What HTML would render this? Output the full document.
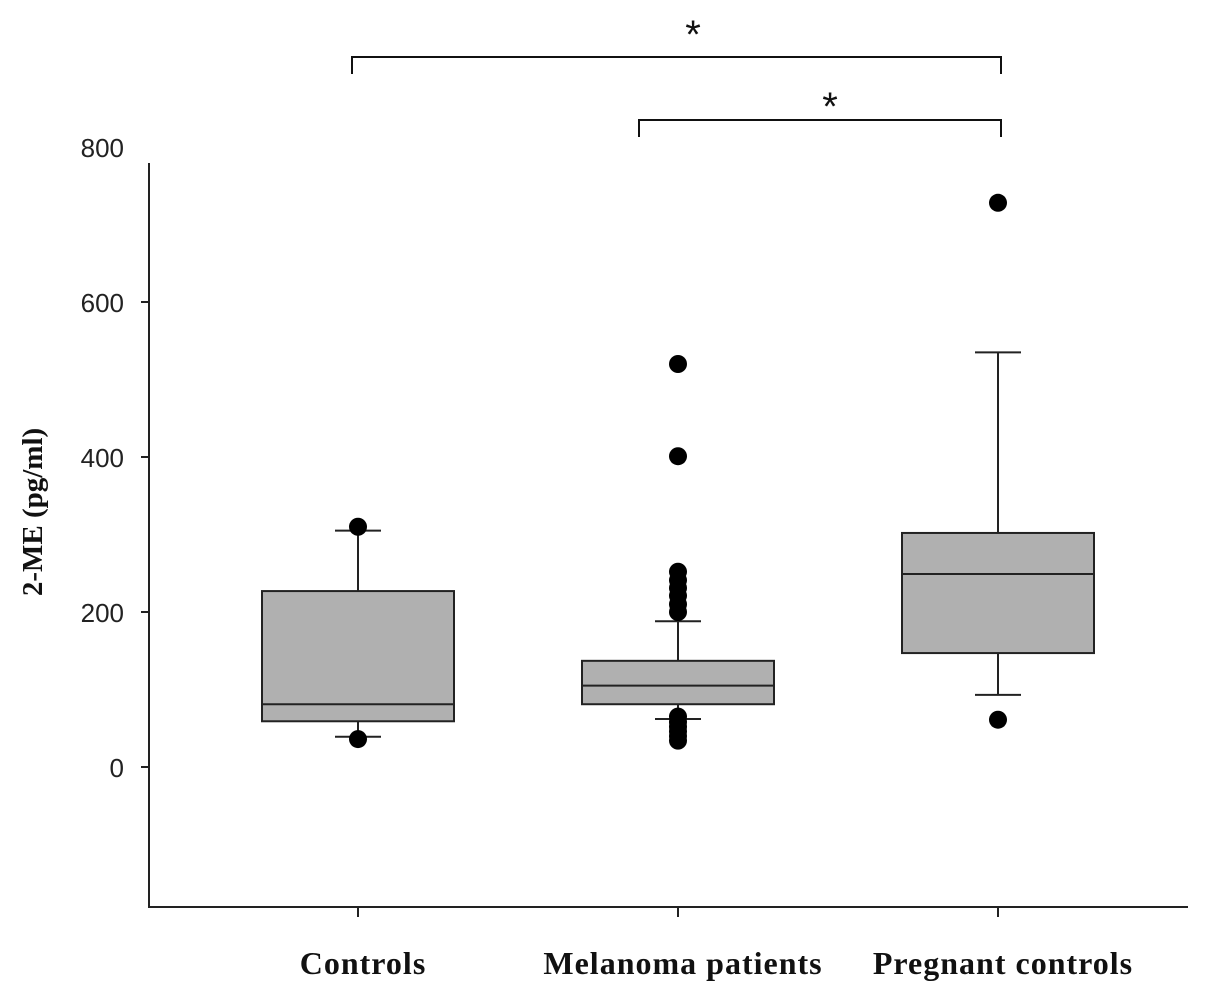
<!DOCTYPE html>
<html><head><meta charset="utf-8"><style>
html,body{margin:0;padding:0;background:#fff;}
svg{display:block;}
</style></head><body>
<svg id="chart" width="1205" height="997" xmlns="http://www.w3.org/2000/svg">
<g id="axes"></g>
<g id="marks"></g>
</svg>
<script>
const categories = ["Controls", "Melanoma patients", "Pregnant controls"];
const q1 = [59, 81, 147];
const median = [81, 105, 249];
const q3 = [227, 137, 302];
const whiskerLow = [39, 62, 93];
const whiskerHigh = [305, 188, 535];
const outliers = [[310, 36], [520, 401, 252, 241, 231, 221, 210, 200, 65, 58, 52, 46, 40, 34], [728, 61]];
const yTicks = [0, 200, 400, 600, 800];

const NS = "http://www.w3.org/2000/svg";
const y = v => 767 - v * 0.775;
const x = i => 358 + i * 320;
function mk(tag, attrs, parent, txt) {
  const e = document.createElementNS(NS, tag);
  for (const k in attrs) e.setAttribute(k, attrs[k]);
  if (txt !== undefined) e.textContent = txt;
  parent.appendChild(e);
  return e;
}
const axes = document.getElementById('axes');
const marks = document.getElementById('marks');
let e;
e = mk('line', {x1:149, y1:163, x2:149, y2:908, stroke:'#222', 'stroke-width':2}, axes);
 
e = mk('line', {x1:148, y1:907, x2:1188, y2:907, stroke:'#222', 'stroke-width':2}, axes);
 
yTicks.forEach(t => {
  if (t < 779) {
    const tk = mk('line', {x1:141, y1:y(t), x2:149, y2:y(t), stroke:'#222', 'stroke-width':2}, axes);
     
  }
  const lb = mk('text', {x:124, y:y(t)+10, 'text-anchor':'end', 'font-family':'Liberation Sans, sans-serif', 'font-size':26, fill:'#222'}, axes, String(t));
   
});
e = mk('text', {x:0, y:0, transform:'translate(42,512) rotate(-90)', 'text-anchor':'middle', 'font-family':'Liberation Serif, serif', 'font-weight':'bold', 'font-size':29, fill:'#111'}, axes, '2-ME (pg/ml)');
 

categories.forEach((c, i) => {
  const cx = x(i);
  const g = mk('g', {}, marks);
  
  
  const tk = mk('line', {x1:cx, y1:907, x2:cx, y2:917, stroke:'#222', 'stroke-width':2}, axes);
   
  const lb = mk('text', {x:cx+5, y:974, 'text-anchor':'middle', 'font-family':'Liberation Serif, serif', 'font-weight':'bold', 'font-size':32, 'letter-spacing':1, fill:'#111'}, axes, c);
   
  const st = {stroke:'#222', 'stroke-width':2};
  e = mk('line', Object.assign({x1:cx, y1:y(whiskerHigh[i]), x2:cx, y2:y(q3[i])}, st), g);
   
  e = mk('line', Object.assign({x1:cx, y1:y(whiskerLow[i]), x2:cx, y2:y(q1[i])}, st), g);
   
  e = mk('line', Object.assign({x1:cx-23, y1:y(whiskerHigh[i]), x2:cx+23, y2:y(whiskerHigh[i])}, st), g);
   
  e = mk('line', Object.assign({x1:cx-23, y1:y(whiskerLow[i]), x2:cx+23, y2:y(whiskerLow[i])}, st), g);
   
  e = mk('rect', Object.assign({x:cx-96, y:y(q3[i]), width:192, height:y(q1[i])-y(q3[i]), fill:'#b0b0b0'}, st), g);
   
  e = mk('line', Object.assign({x1:cx-96, y1:y(median[i]), x2:cx+96, y2:y(median[i])}, st), g);
   
  outliers[i].forEach(v => {
    const d = mk('circle', {cx:cx, cy:y(v), r:9, fill:'#000'}, g);
     
  });
});
function bracket(x1, x2, yy, sx, sy, name) {
  const g = mk('g', {}, axes);
   
  mk('path', {d:`M${x1} ${yy+17} V${yy} H${x2} V${yy+17}`, fill:'none', stroke:'#111', 'stroke-width':2}, g);
  const s = mk('text', {x:sx, y:sy, 'text-anchor':'middle', 'font-family':'Liberation Sans, sans-serif', 'font-size':40, fill:'#111'}, g, '*');
   
}
bracket(352, 1001, 57, 693, 48, 'significance-bracket-controls-pregnant');
bracket(639, 1001, 120, 830, 120, 'significance-bracket-melanoma-pregnant');
</script>
</body></html>
